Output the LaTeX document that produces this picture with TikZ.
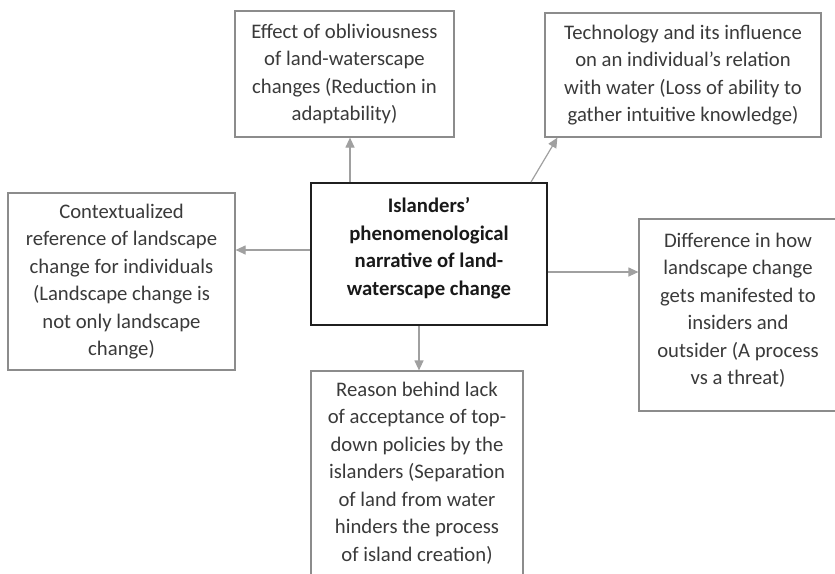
\documentclass[tikz,border=0pt]{standalone}
\usepackage{fontspec}
\setmainfont{Carlito}
\usetikzlibrary{arrows.meta}
\definecolor{boxgray}{HTML}{8C8C8C}
\definecolor{arrgray}{HTML}{A0A0A0}
\definecolor{txt}{HTML}{3A3A3A}
\begin{document}
\begin{tikzpicture}[x=1pt,y=-1pt,
  box/.style={draw=boxgray, line width=1.2pt, rectangle, align=center, text=txt,
    font=\fontsize{20.7}{27.5}\selectfont, inner sep=0pt},
  boxtext/.style={align=center, text=txt, font=\fontsize{20.7}{27.5}\selectfont, inner sep=0pt},
  mainbox/.style={draw=black!88, line width=2pt, rectangle, inner sep=0pt},
  maintext/.style={align=center, text=black!90, font=\fontsize{20.7}{27.5}\selectfont\bfseries, inner sep=0pt},
  arr/.style={draw=arrgray, line width=1.2pt, -{Triangle[length=10pt,width=9pt]}}]
\useasboundingbox (0,0) rectangle (835,573);
\fill[white] (0,0) rectangle (835,573);

\node[box, minimum width=219pt, minimum height=126pt] (b1) at (344.5,74)
  {Effect of obliviousness\\of land-waterscape\\changes (Reduction in\\adaptability)};
\node[box, minimum width=276pt, minimum height=124pt] (b2) at (683,75)
  {Technology and its influence\\on an individual’s relation\\with water (Loss of ability to\\gather intuitive knowledge)};
\node[box, minimum width=227pt, minimum height=177pt] (bl) at (121.5,281.5)
  {Contextualized\\reference of landscape\\change for individuals\\(Landscape change is\\not only landscape\\change)};
\node[mainbox, minimum width=236pt, minimum height=142pt] (c) at (429,254) {};
\node[maintext] (ct) at ([yshift=6pt]c.center)
  {Islanders’\\phenomenological\\narrative of land-\\waterscape change};
\node[box, minimum width=198pt, minimum height=192pt] (br) at (738,315) {};
\node[boxtext] (brt) at ([yshift=5pt]br.center)
  {Difference in how\\landscape change\\gets manifested to\\insiders and\\outsider (A process\\vs a threat)};
\node[box, minimum width=212pt, minimum height=204pt] (bb) at (417,473)
  {Reason behind lack\\of acceptance of top-\\down policies by the\\islanders (Separation\\of land from water\\hinders the process\\of island creation)};

\coordinate (c1) at ([xshift=40pt]c.north west);
\coordinate (c2) at ([xshift=221pt]c.north west);
\coordinate (c3) at ([yshift=4pt]c.west);
\coordinate (c4) at ([yshift=-18pt]c.east);
\coordinate (c5) at ([xshift=-10pt]c.south);
\draw[arr] (c1) -- (c1 |- b1.south);
\draw[arr] (c2) -- ([xshift=13pt]b2.south west);
\draw[arr] (c3) -- (c3 -| bl.east);
\draw[arr] (c4) -- (c4 -| br.west);
\draw[arr] (c5) -- (c5 |- bb.north);
\end{tikzpicture}
\end{document}
